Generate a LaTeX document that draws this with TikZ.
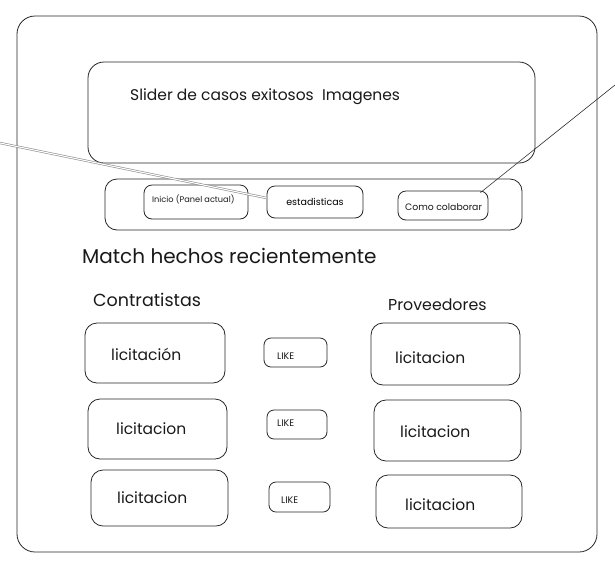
\documentclass[tikz,border=0pt]{standalone}
\usepackage{fontspec}
\setmainfont{Poppins}
\usetikzlibrary{calc}
\tikzset{
  x=1pt, y=-1pt,
  sk/.style={draw=black!85, line width=0.8pt, rounded corners=#1, inner sep=0pt},
  sk/.default=10pt,
  txt/.style={anchor=west, inner sep=0pt, text=black!90},
}
\begin{document}
\begin{tikzpicture}
\useasboundingbox (0,0) rectangle (615,574);
% outer frame
\node[sk=18pt, minimum width=580pt, minimum height=536pt] (frame) at (307,284) {};
% slider
\node[sk=16pt, minimum width=447pt, minimum height=101pt] (slider) at (311.5,112.5) {};
\node[txt, font=\fontsize{15.5}{18}\selectfont] (slidertxt) at (130,97) {Slider de casos exitosos\ \ Imagenes};
% nav bar
\node[sk=12pt, minimum width=417pt, minimum height=51pt] (nav) at (313.5,204.5) {};
\node[sk=8pt, minimum width=104pt, minimum height=34pt] (inicio) at (196,202) {};
\node[txt, font=\fontsize{8.2}{9}\selectfont] (iniciotxt) at (152,199) {Inicio (Panel actual)};
\node[sk=8pt, minimum width=96pt, minimum height=32pt, font=\fontsize{9.5}{11}\selectfont] (estad) at (315,202) {estadisticas};
\node[sk=8pt, minimum width=90pt, minimum height=29pt] (como) at (443,205.5) {};
\node[txt, font=\fontsize{9.3}{10}\selectfont] (comotxt) at (405,207) {Como colaborar};
% connectors
\coordinate (lfree) at (0,143);
\coordinate (rfree) at (615,85);
\draw[draw=black!45, double=white, double distance=1.1pt, line width=0.6pt] (lfree) -- ($(estad.west)+(0,-4)$);
\draw[black!80, line width=0.6pt] (rfree) -- ($(como.north east)+(-8,2)$);
% headings
\node[txt, font=\fontsize{20}{22}\selectfont] (match) at (82,256) {Match hechos recientemente};
\node[txt, font=\fontsize{17.5}{19}\selectfont] (contr) at (93,300) {Contratistas};
\node[txt, font=\fontsize{15.8}{17}\selectfont] (prov) at (388,305) {Proveedores};
% left column
\node[sk=12pt, minimum width=140pt, minimum height=60pt] (l1) at (155,353) {};
\node[sk=12pt, minimum width=139pt, minimum height=60pt] (l2) at (157.5,429) {};
\node[sk=12pt, minimum width=137pt, minimum height=56pt] (l3) at (159.5,498) {};
\node[txt, font=\fontsize{15.5}{17}\selectfont] (l1t) at (111,354) {licitación};
\node[txt, font=\fontsize{15.5}{17}\selectfont] (l2t) at (116,429) {licitacion};
\node[txt, font=\fontsize{15.5}{17}\selectfont] (l3t) at (117,498) {licitacion};
% like column
\node[sk=7pt, minimum width=63pt, minimum height=29pt] (k1) at (295.5,352.5) {};
\node[sk=7pt, minimum width=60pt, minimum height=29pt] (k2) at (297,424.5) {};
\node[sk=7pt, minimum width=61pt, minimum height=30pt] (k3) at (299.5,497) {};
\node[txt, font=\fontsize{9.5}{10}\selectfont] (k1t) at (277,356) {LIKE};
\node[txt, font=\fontsize{9.5}{10}\selectfont] (k2t) at (277,423) {LIKE};
\node[txt, font=\fontsize{9.5}{10}\selectfont] (k3t) at (281,500) {LIKE};
% right column
\node[sk=12pt, minimum width=149pt, minimum height=62pt] (r1) at (445.5,354) {};
\node[sk=12pt, minimum width=147pt, minimum height=61pt] (r2) at (447.5,430.5) {};
\node[sk=12pt, minimum width=146pt, minimum height=53pt] (r3) at (449,501.5) {};
\node[txt, font=\fontsize{15.5}{17}\selectfont] (r1t) at (395,358) {licitacion};
\node[txt, font=\fontsize{15.5}{17}\selectfont] (r2t) at (400,432) {licitacion};
\node[txt, font=\fontsize{15.5}{17}\selectfont] (r3t) at (405,505) {licitacion};
\end{tikzpicture}
\end{document}
